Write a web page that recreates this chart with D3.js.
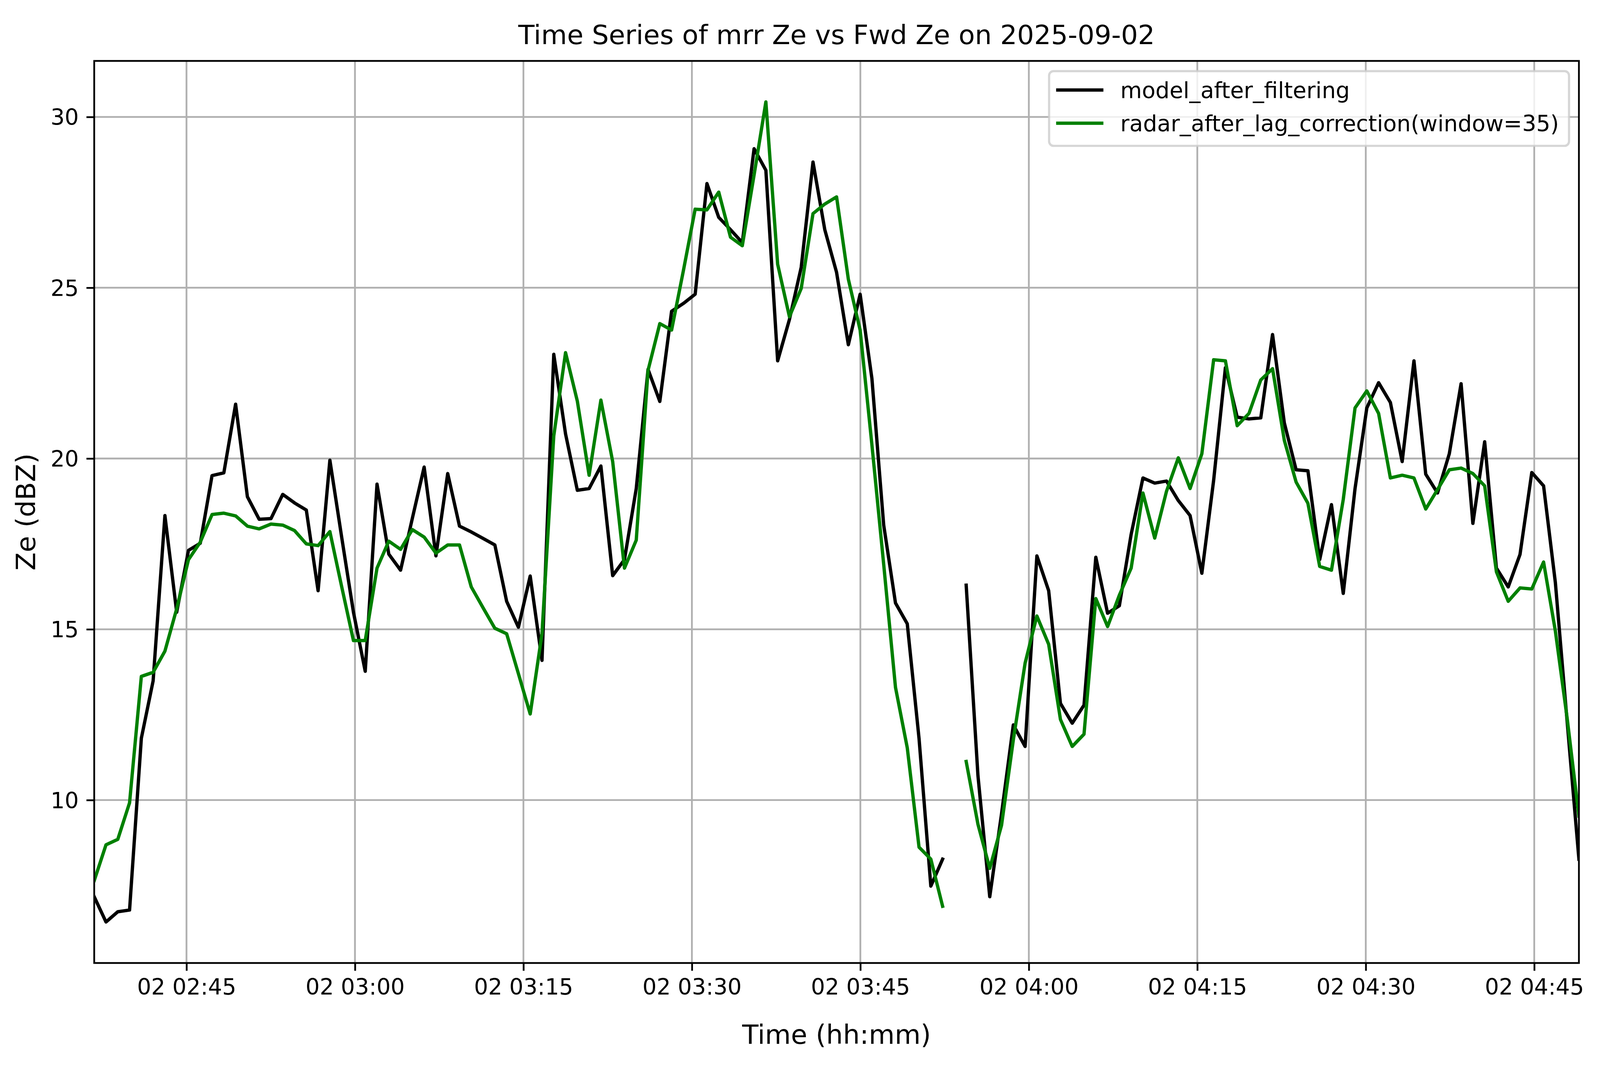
<!DOCTYPE html>
<html>
<head>
<meta charset="utf-8">
<script src="https://cdn.jsdelivr.net/npm/d3@7"></script>
<style>
  html, body { margin: 0; padding: 0; overflow: hidden; background: white; }
  svg { display: block; }
  text { font-family: "DejaVu Sans", sans-serif; }
</style>
</head>
<body>
<div id="container"></div>
<script>
/* CONSTANTS AND GLOBALS */
// reference figure is 5010 x 2740; lay out in fractions of the real window
const refW = 5010;
const refH = 2740;
const width = window.innerWidth || refW;
const height = window.innerHeight || refH;
const sx = width / refW;
const sy = height / refH;
const k = Math.min(sx, sy);          // scale for fonts, strokes, paddings

const margin = {
  left: 295 * sx,
  right: 66 * sx,
  top: 156 * sy,
  bottom: 274 * sy
};

// one sample roughly every 63 s, starting 02:36:47 UTC
const startTime = Date.UTC(2025, 8, 2, 2, 36, 47);
const stepSeconds = 62.95;

/* DATA (dBZ), null = missing sample */
const modelZe = [
  7.17, 6.43, 6.73, 6.78, 11.81, 13.49, 18.33, 15.50, 17.31, 17.52,
  19.50, 19.58, 21.59, 18.88, 18.22, 18.24, 18.95, 18.70, 18.49, 16.13,
  19.95, 17.70, 15.50, 13.77, 19.25, 17.20, 16.73, 18.25, 19.75, 17.15,
  19.56, 18.02, 17.85, 17.66, 17.47, 15.82, 15.06, 16.56, 14.09, 23.05,
  20.72, 19.07, 19.12, 19.78, 16.57, 17.04, 19.12, 22.61, 21.67, 24.31,
  24.54, 24.81, 28.05, 27.06, 26.70, 26.32, 29.07, 28.44, 22.86, 24.07,
  25.60, 28.68, 26.70, 25.45, 23.33, 24.81, 22.34, 18.05, 15.77, 15.16,
  11.80, 7.48, 8.27, null, 16.29, 10.71, 7.17, 9.60, 12.20, 11.57,
  17.15, 16.13, 12.83, 12.25, 12.78, 17.11, 15.47, 15.69, 17.78, 19.43,
  19.28, 19.34, 18.77, 18.33, 16.64, 19.36, 22.66, 21.21, 21.16, 21.19,
  23.63, 21.04, 19.67, 19.64, 17.04, 18.65, 16.05, 19.12, 21.48, 22.22,
  21.64, 19.91, 22.86, 19.54, 18.99, 20.14, 22.19, 18.10, 20.49, 16.79,
  16.24, 17.19, 19.59, 19.20, 16.37, 12.30, 8.27
];

const radarZe = [
  7.64, 8.69, 8.85, 9.92, 13.62, 13.74, 14.36, 15.60, 17.04, 17.55,
  18.36, 18.40, 18.32, 18.02, 17.94, 18.08, 18.05, 17.89, 17.50, 17.45,
  17.86, 16.25, 14.67, 14.67, 16.79, 17.58, 17.34, 17.92, 17.70, 17.23,
  17.47, 17.47, 16.24, 15.63, 15.03, 14.87, 13.70, 12.52, 14.87, 20.66,
  23.10, 21.68, 19.51, 21.71, 19.91, 16.79, 17.61, 22.58, 23.95, 23.76,
  25.50, 27.30, 27.28, 27.80, 26.48, 26.23, 28.30, 30.44, 25.69, 24.15,
  24.98, 27.17, 27.45, 27.66, 25.25, 23.76, 20.40, 16.90, 13.30, 11.53,
  8.62, 8.27, 6.89, null, 11.13, 9.29, 8.00, 9.26, 11.76, 14.01,
  15.39, 14.56, 12.36, 11.57, 11.93, 15.90, 15.08, 16.00, 16.79, 18.99,
  17.67, 19.04, 20.02, 19.12, 20.14, 22.89, 22.86, 20.96, 21.32, 22.30,
  22.63, 20.53, 19.31, 18.69, 16.84, 16.73, 18.80, 21.48, 21.98, 21.32,
  19.43, 19.51, 19.43, 18.52, 19.09, 19.67, 19.72, 19.56, 19.20, 16.68,
  15.82, 16.21, 16.18, 16.97, 14.95, 12.40, 9.53
];

const yTicks = [10, 15, 20, 25, 30];

const seriesNames = ["model_after_filtering", "radar_after_lag_correction(window=35)"];
const seriesColors = ["#000000", "#008000"];

const times = modelZe.map((_, i) => new Date(startTime + i * stepSeconds * 1000));

const series = [modelZe, radarZe].map(vals =>
  vals.map((v, i) => ({ date: times[i], value: v }))
);

// 1pt in reference px (figure is ~500 dpi), scaled to the window
const pt = 6.944 * k;

/* SCALES */
const allVals = modelZe.concat(radarZe).filter(v => v != null);
const [vMin, vMax] = d3.extent(allVals);
const pad = (vMax - vMin) * 0.05;

const plotLeft = margin.left;
const plotRight = width - margin.right;
const plotTop = margin.top;
const plotBottom = height - margin.bottom;

const xScale = d3.scaleUtc()
  .domain(d3.extent(times))
  .range([plotLeft, plotRight]);

const yScale = d3.scaleLinear()
  .domain([vMin - pad, vMax + pad])
  .range([plotBottom, plotTop]);

const xTicks = xScale.ticks(d3.utcMinute.every(15));

/* SVG */
const svg = d3.select("#container")
  .append("svg")
  .attr("width", width)
  .attr("height", height)
  .style("background-color", "white");

// clip
svg.append("clipPath")
  .attr("id", "plotClip")
  .append("rect")
  .attr("x", plotLeft)
  .attr("y", plotTop)
  .attr("width", plotRight - plotLeft)
  .attr("height", plotBottom - plotTop);

// GRID
const grid = svg.append("g").attr("class", "grid")
  .attr("stroke", "#b0b0b0")
  .attr("stroke-width", 0.8 * pt);

grid.selectAll(".vgrid")
  .data(xTicks)
  .join("line")
  .attr("x1", d => xScale(d))
  .attr("x2", d => xScale(d))
  .attr("y1", plotTop)
  .attr("y2", plotBottom);

grid.selectAll(".hgrid")
  .data(yTicks)
  .join("line")
  .attr("x1", plotLeft)
  .attr("x2", plotRight)
  .attr("y1", d => yScale(d))
  .attr("y2", d => yScale(d));

// LINES
const lineGen = d3.line()
  .defined(d => d.value != null)
  .x(d => xScale(d.date))
  .y(d => yScale(d.value));

svg.append("g")
  .attr("clip-path", "url(#plotClip)")
  .selectAll("path")
  .data(series)
  .join("path")
  .attr("fill", "none")
  .attr("stroke", (d, i) => seriesColors[i])
  .attr("stroke-width", 1.5 * pt)
  .attr("stroke-linejoin", "round")
  .attr("stroke-linecap", "square")
  .attr("d", d => lineGen(d));

// AXES
const xAxis = d3.axisBottom(xScale)
  .tickValues(xTicks)
  .tickFormat(d3.utcFormat("%d %H:%M"))
  .tickSize(3.5 * pt)
  .tickPadding(26 * k);

const xAxisGroup = svg.append("g")
  .attr("class", "xAxis")
  .attr("transform", `translate(0, ${plotBottom})`)
  .call(xAxis);

const yAxis = d3.axisLeft(yScale)
  .tickValues(yTicks)
  .tickSize(3.5 * pt)
  .tickPadding(24 * k);

const yAxisGroup = svg.append("g")
  .attr("class", "yAxis")
  .attr("transform", `translate(${plotLeft}, 0)`)
  .call(yAxis);

[xAxisGroup, yAxisGroup].forEach(g => {
  g.select(".domain").remove();
  g.selectAll(".tick line").attr("stroke", "#000").attr("stroke-width", 0.8 * pt);
  g.selectAll(".tick text")
    .attr("fill", "#000")
    .style("font-family", "'DejaVu Sans', sans-serif")
    .style("font-size", `${10 * pt}px`);
});
yAxisGroup.selectAll(".tick text").attr("dy", "0.36em");

// SPINES
svg.append("rect")
  .attr("x", plotLeft)
  .attr("y", plotTop)
  .attr("width", plotRight - plotLeft)
  .attr("height", plotBottom - plotTop)
  .attr("fill", "none")
  .attr("stroke", "#000")
  .attr("stroke-width", 0.8 * pt);

// LABELS
svg.append("text")
  .attr("x", (plotLeft + plotRight) / 2)
  .attr("y", 2673 * sy)
  .attr("text-anchor", "middle")
  .style("font-size", `${12 * pt}px`)
  .text("Time (hh:mm)");

svg.append("text")
  .attr("transform", `translate(${110 * sx}, ${(plotTop + plotBottom) / 2}) rotate(-90)`)
  .attr("text-anchor", "middle")
  .style("font-size", `${12 * pt}px`)
  .text("Ze (dBZ)");

svg.append("text")
  .attr("x", (plotLeft + plotRight) / 2)
  .attr("y", 113 * sy)
  .attr("text-anchor", "middle")
  .style("font-size", `${12 * pt}px`)
  .text("Time Series of mrr Ze vs Fwd Ze on 2025-09-02");

// LEGEND (anchored to the upper right corner of the axes)
const legendW = 1628 * k;
const legendH = 234 * k;
const legendX = plotRight - 31 * k - legendW;
const legendY = plotTop + 32 * k;

const legend = svg.append("g").attr("class", "legend");

legend.append("rect")
  .attr("x", legendX)
  .attr("y", legendY)
  .attr("width", legendW)
  .attr("height", legendH)
  .attr("rx", 14 * k)
  .attr("ry", 14 * k)
  .attr("fill", "white")
  .attr("fill-opacity", 0.8)
  .attr("stroke", "#cccccc")
  .attr("stroke-opacity", 0.8)
  .attr("stroke-width", 1.0 * pt);

const legendRows = legend.selectAll(".row")
  .data(seriesNames)
  .join("g")
  .attr("class", "row")
  .attr("transform", (d, i) => `translate(${legendX}, ${legendY + (59 + i * 104) * k})`);

legendRows.append("line")
  .attr("x1", 22 * k)
  .attr("x2", 170 * k)
  .attr("y1", 0)
  .attr("y2", 0)
  .attr("stroke", (d, i) => seriesColors[i])
  .attr("stroke-width", 1.5 * pt)
  .attr("stroke-linecap", "butt");

legendRows.append("text")
  .attr("x", 223 * k)
  .attr("y", 25 * k)
  .style("font-size", `${10 * pt}px`)
  .text(d => d);
</script>
</body>
</html>
